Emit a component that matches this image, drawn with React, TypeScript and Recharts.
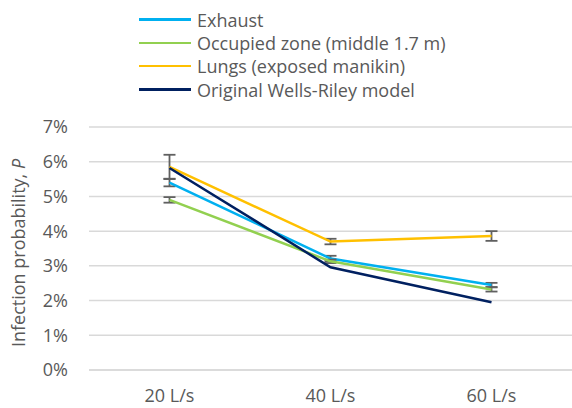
import React from 'react';
import {
  LineChart,
  Line,
  XAxis,
  YAxis,
  CartesianGrid,
  ErrorBar,
} from 'recharts';

const categories = ['20 L/s', '40 L/s', '60 L/s'];

// infection probability in %
const exhaust = [5.4, 3.21, 2.45];
const occupied = [4.9, 3.13, 2.32];
const lungs = [5.85, 3.7, 3.86];
const wellsRiley = [5.82, 2.96, 1.95];

// +/- error, in %
const exhaustErr = [0.11, 0.08, 0.06];
const occupiedErr = [0.08, 0.05, 0.06];
const lungsErr = [0.35, 0.08, 0.14];

const yTicks = [0, 1, 2, 3, 4, 5, 6, 7];

const FONT = '"Open Sans", Lato, sans-serif';
const TEXT = '#595959';

const seriesList = [
  { key: 'exhaust', name: 'Exhaust', color: '#00B0F0', err: 'exhaustErr' },
  { key: 'occupied', name: 'Occupied zone (middle 1.7 m)', color: '#92D050', err: 'occupiedErr' },
  { key: 'lungs', name: 'Lungs (exposed manikin)', color: '#FFC000', err: 'lungsErr' },
  { key: 'wellsRiley', name: 'Original Wells-Riley model', color: '#002060', err: null },
];

const chartData = categories.map((cat, i) => ({
  cat,
  exhaust: exhaust[i],
  occupied: occupied[i],
  lungs: lungs[i],
  wellsRiley: wellsRiley[i],
  exhaustErr: exhaustErr[i],
  occupiedErr: occupiedErr[i],
  lungsErr: lungsErr[i],
}));

// legend sits above the plot, drawn as plain html so it doesn't eat chart margins
const LegendBox = () => (
  <div
    style={{
      position: 'absolute',
      left: 139,
      top: 8,
      fontFamily: FONT,
      fontSize: 18,
      color: TEXT,
      lineHeight: 1,
    }}
  >
    {seriesList.map((s) => (
      <div key={s.key} style={{ display: 'flex', alignItems: 'center', height: 23.3 }}>
        <span
          style={{
            display: 'inline-block',
            width: 52,
            height: 2.5,
            background: s.color,
            marginRight: 6,
          }}
        />
        <span style={{ whiteSpace: 'nowrap' }}>{s.name}</span>
      </div>
    ))}
  </div>
);

const YTitle = () => (
  <text
    x={18}
    y={253}
    transform="rotate(-90, 18, 253)"
    textAnchor="middle"
    dominantBaseline="central"
    fill={TEXT}
    fontSize={18}
    fontFamily={FONT}
  >
    Infection probability, <tspan fontStyle="italic">P</tspan>
  </text>
);

export default function App() {
  return (
    <div style={{ position: 'absolute', left: 0, top: 0, width: 572, height: 408, background: '#fff' }}>
      <LineChart
        width={572}
        height={408}
        data={chartData}
        margin={{ top: 127, right: 0, bottom: 8, left: 0 }}
      >
        <CartesianGrid vertical={false} stroke="#d9d9d9" strokeWidth={1.5} />
        <XAxis
          dataKey="cat"
          axisLine={{ stroke: '#d9d9d9', strokeWidth: 1.5 }}
          tickLine={false}
          height={30}
          tickMargin={13}
          padding={{ left: 80.5, right: 80.5 }}
          tick={{ fontSize: 18, fill: TEXT, fontFamily: FONT }}
        />
        <YAxis
          width={89}
          domain={[0, 7]}
          ticks={yTicks}
          axisLine={false}
          tickLine={false}
          tickSize={0}
          tickMargin={21}
          tickFormatter={(v) => `${v}%`}
          tick={{ fontSize: 18, fill: TEXT, fontFamily: FONT }}
          label={{ content: () => <YTitle /> }}
        />
        {seriesList.map((s) => (
          <Line
            key={s.key}
            dataKey={s.key}
            name={s.name}
            stroke={s.color}
            strokeWidth={2.5}
            dot={false}
            activeDot={false}
            isAnimationActive={false}
          >
            {s.err && (
              <ErrorBar
                dataKey={s.err}
                direction="y"
                width={6}
                stroke="#606060"
                strokeWidth={1.8}
                isAnimationActive={false}
              />
            )}
          </Line>
        ))}
      </LineChart>
      <LegendBox />
    </div>
  );
}
